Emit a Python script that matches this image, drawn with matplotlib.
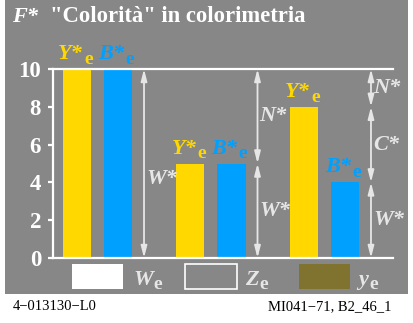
import matplotlib
matplotlib.use("Agg")
import matplotlib.pyplot as plt
import matplotlib.transforms as mtransforms
from matplotlib.patches import Rectangle

# ---- data ----
groups = [0, 1, 2]
yellow_values = [10, 5, 8]
blue_values = [10, 5, 4]
yellow_label = "Y*"
blue_label = "B*"
sub_label = "e"
arrow_bounds = [[0, 10], [0, 5, 10], [0, 4, 8, 10]]
arrow_texts = [["W*"], ["W*", "N*"], ["W*", "C*", "N*"]]
yticks = [0, 2, 4, 6, 8, 10]
legend_names = ["W", "Z", "y"]
title_symbol = "F*"
title_text = '"Colorità" in colorimetria'
footer_left = "4\u2212013130\u2212L0"
footer_right = "MI041\u221271, B2_46_1"

# ---- style ----
GRAY = "#878787"
YELLOW = "#FFD800"
BLUE = "#00A0FF"
OLIVE = "#807330"
LIGHT = "#E6E6E6"
W, H = 413, 323
plt.rcParams["font.family"] = ["Liberation Serif", "DejaVu Serif"]
plt.rcParams["font.weight"] = "bold"

fig = plt.figure(figsize=(W / 100, H / 100), dpi=100)
fig.patch.set_facecolor("white")
fig.patches.append(Rectangle((5 / W, 1 - 294 / H), 403 / W, 294 / H,
                             transform=fig.transFigure, facecolor=GRAY,
                             edgecolor="none", zorder=-10))

def fx(x):
    return x / W

def fy(y):
    return 1 - y / H

ax = fig.add_axes([fx(53), fy(258), (393 - 53) / W, (258 - 69) / H])
ax.set_facecolor("none")
ax.set_xlim(-0.392, 2.604)
ax.set_ylim(0, 10)

off = 0.181
bw = 0.247
xs_y = [g - off for g in groups]
xs_b = [g + off for g in groups]
ax.bar(xs_y, yellow_values, width=bw, color=YELLOW, zorder=2)
ax.bar(xs_b, blue_values, width=bw, color=BLUE, zorder=2)

def lab(x, v, main, color):
    t1 = mtransforms.offset_copy(ax.transData, fig=fig, x=6, y=10, units="dots")
    t2 = mtransforms.offset_copy(ax.transData, fig=fig, x=7, y=5, units="dots")
    ax.text(x, v, main, transform=t1, ha="right", va="baseline", color=color,
            fontsize=16, fontstyle="italic", fontweight="bold", clip_on=False)
    ax.text(x, v, sub_label, transform=t2, ha="left", va="baseline", color=color,
            fontsize=14, fontweight="bold", clip_on=False)

for x, v in zip(xs_y, yellow_values):
    lab(x, v, yellow_label, YELLOW)
for x, v in zip(xs_b, blue_values):
    lab(x, v, blue_label, BLUE)

# arrows
arrow_off = 0.41
for g, bounds, texts in zip(groups, arrow_bounds, arrow_texts):
    xa = g + arrow_off
    for i in range(len(bounds) - 1):
        a, b = bounds[i], bounds[i + 1]
        ax.annotate("", xy=(xa, b), xytext=(xa, a),
                    arrowprops=dict(arrowstyle="<|-|>,head_length=0.7,head_width=0.18",
                                    color=LIGHT, lw=1.3, shrinkA=0, shrinkB=0,
                                    mutation_scale=10), zorder=3)
        ym = (a + b) / 2
        if len(bounds) == 2:
            ym = a + 0.42 * (b - a)
        tt = mtransforms.offset_copy(ax.transData, fig=fig, x=2, y=0, units="dots")
        ax.text(xa, ym, texts[i], transform=tt, ha="left", va="center",
                color=LIGHT, fontsize=16, fontstyle="italic", fontweight="bold")

# axes styling
ax.spines["right"].set_visible(False)
for s in ["left", "top", "bottom"]:
    ax.spines[s].set_color("white")
    ax.spines[s].set_linewidth(1.6)
    ax.spines[s].set_zorder(4)
ax.set_yticks(yticks)
ax.set_yticklabels([str(t) for t in yticks])
ax.set_xticks([])
ax.tick_params(axis="y", colors="white", labelcolor="white", length=3.6,
               width=1.6, labelsize=16.5, pad=5)
for lbl in ax.get_yticklabels():
    lbl.set_fontweight("bold")

# title
fig.text(fx(12), fy(22), title_symbol, color="white", fontsize=16,
         fontstyle="italic", fontweight="bold", va="baseline", ha="left")
fig.text(fx(50), fy(22), title_text, color="white", fontsize=16.3,
         fontweight="bold", va="baseline", ha="left")

# legend
rects = [(72, 123, "white", "none"), (185, 237, GRAY, "white"), (299, 350, OLIVE, "none")]
name_x = [133, 245, 358]
for (x0, x1, fc, ec), nx, nm in zip(rects, name_x, legend_names):
    fig.patches.append(Rectangle((fx(x0), fy(289)), (x1 - x0) / W, 25 / H,
                                 transform=fig.transFigure, facecolor=fc,
                                 edgecolor=ec, lw=1.2, zorder=2))
    t = fig.text(fx(nx), fy(285), nm, color=LIGHT, fontsize=16,
                 fontstyle="italic", fontweight="bold", va="baseline", ha="left")
    fig.canvas.draw()
    bb = t.get_window_extent()
    fig.text((bb.x1 + 1) / W, fy(289), sub_label, color=LIGHT, fontsize=14,
             fontweight="bold", va="baseline", ha="left")

# footer
fig.text(fx(13), fy(310), footer_left, color="black", fontsize=10.5,
         fontweight="normal", va="baseline", ha="left")
fig.text(fx(392), fy(310), footer_right, color="black", fontsize=10.5,
         fontweight="normal", va="baseline", ha="right")

fig.savefig("out.png", dpi=100, facecolor="white")
